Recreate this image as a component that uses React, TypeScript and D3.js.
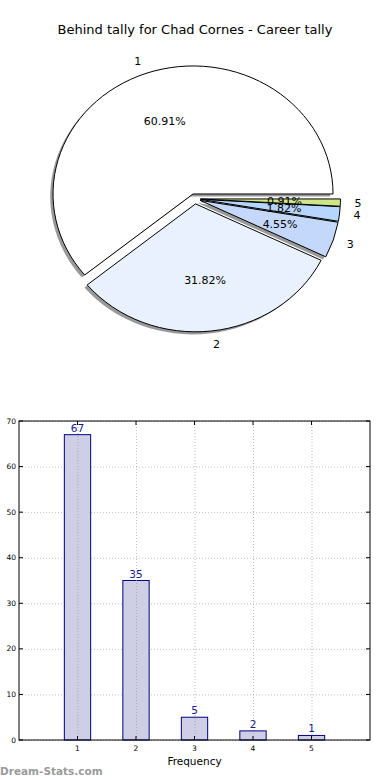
import { useEffect, useRef } from "react";
import * as d3 from "d3";

const categories = ["1", "2", "3", "4", "5"];
const counts = [67, 35, 5, 2, 1];
const sliceColors = ["#ffffff", "#eaf1fe", "#c4d8fc", "#b6d6ff", "#cde68a"];
const yTicks = [0, 10, 20, 30, 40, 50, 60, 70];

const W = 390;
const H = 780;

const App = () => {
  const ref = useRef<SVGSVGElement | null>(null);

  useEffect(() => {
    const svg = d3.select(ref.current);
    svg.selectAll("*").remove();
    const font = "DejaVu Sans, sans-serif";

    svg
      .append("text")
      .attr("x", 195)
      .attr("y", 34)
      .attr("text-anchor", "middle")
      .attr("font-family", font)
      .attr("font-size", 13)
      .text("Behind tally for Chad Cornes - Career tally");

    // ---- pie (elliptical, like matplotlib with non-equal aspect)
    const cx = 194.9;
    const cy = 198.8;
    const rx = 140;
    const ry = 128;
    const explode = 0.04;
    const total = d3.sum(counts);

    const pie = d3
      .pie<number>()
      .sort(null)
      .startAngle(Math.PI / 2)
      .endAngle(Math.PI / 2 - 2 * Math.PI);
    const arcs = pie(counts);
    const arc = d3.arc<d3.PieArcDatum<number>>().innerRadius(0).outerRadius(1);

    const pieG = svg.append("g");
    const wedge = (d: d3.PieArcDatum<number>) => {
      const m = (d.startAngle + d.endAngle) / 2;
      return { dx: Math.sin(m), dy: -Math.cos(m) };
    };

    // shadows
    pieG
      .selectAll("path.shadow")
      .data(arcs)
      .join("path")
      .attr("class", "shadow")
      .attr("transform", (d) => {
        const { dx, dy } = wedge(d);
        const ox = cx + dx * explode * rx - 0.02 * rx;
        const oy = cy + dy * explode * ry + 0.02 * ry;
        return `translate(${ox},${oy}) scale(${rx},${ry})`;
      })
      .attr("d", arc)
      .attr("fill", "#808080")
      .attr("fill-opacity", 0.8);

    pieG
      .selectAll("path.slice")
      .data(arcs)
      .join("path")
      .attr("class", "slice")
      .attr("transform", (d) => {
        const { dx, dy } = wedge(d);
        return `translate(${cx + dx * explode * rx},${cy + dy * explode * ry}) scale(${rx},${ry})`;
      })
      .attr("d", arc)
      .attr("fill", (_, i) => sliceColors[i])
      .attr("stroke", "#000")
      .attr("stroke-width", 1)
      .attr("vector-effect", "non-scaling-stroke");

    arcs.forEach((d, i) => {
      const { dx, dy } = wedge(d);
      const ox = cx + dx * explode * rx;
      const oy = cy + dy * explode * ry;
      pieG
        .append("text")
        .attr("x", ox + dx * 1.1 * rx)
        .attr("y", oy + dy * 1.1 * ry)
        .attr("dy", "0.35em")
        .attr("text-anchor", dx < 0 ? "end" : "start")
        .attr("font-family", font)
        .attr("font-size", 11)
        .text(categories[i]);
      pieG
        .append("text")
        .attr("x", ox + dx * 0.6 * rx)
        .attr("y", oy + dy * 0.6 * ry)
        .attr("dy", "0.35em")
        .attr("text-anchor", "middle")
        .attr("font-family", font)
        .attr("font-size", 11)
        .text(((counts[i] / total) * 100).toFixed(2) + "%");
    });

    // ---- bar chart
    const margin = { top: 421, right: 20, bottom: 40, left: 19 };
    const x = d3.scaleLinear().domain([0, 6]).range([margin.left, W - margin.right]);
    const y = d3.scaleLinear().domain([0, 70]).range([H - margin.bottom, margin.top]);
    const barW = x(0.45) - x(0);

    const grid = svg.append("g").attr("stroke", "#bdbdbd").attr("stroke-dasharray", "1,2");
    grid
      .selectAll("line.gy")
      .data(yTicks)
      .join("line")
      .attr("x1", x(0))
      .attr("x2", x(6))
      .attr("y1", (d) => y(d) + 0.5)
      .attr("y2", (d) => y(d) + 0.5);
    grid
      .selectAll("line.gx")
      .data(categories)
      .join("line")
      .attr("x1", (_, i) => x(i + 1) + 0.5)
      .attr("x2", (_, i) => x(i + 1) + 0.5)
      .attr("y1", y(0))
      .attr("y2", y(70));

    svg
      .append("g")
      .selectAll("rect")
      .data(counts)
      .join("rect")
      .attr("x", (_, i) => x(i + 1) - barW / 2)
      .attr("y", (d) => y(d))
      .attr("width", barW)
      .attr("height", (d) => y(0) - y(d))
      .attr("fill", "#cbcbe4")
      .attr("fill-opacity", 0.95)
      .attr("stroke", "#000080")
      .attr("stroke-width", 1);

    // grid shows through the bars in the original
    svg
      .append("g")
      .attr("stroke", "#a9a9bd")
      .attr("stroke-dasharray", "1,2")
      .selectAll("line")
      .data(categories)
      .join("line")
      .attr("x1", (_, i) => x(i + 1) + 0.5)
      .attr("x2", (_, i) => x(i + 1) + 0.5)
      .attr("y1", y(0))
      .attr("y2", (_, i) => y(counts[i]));

    svg
      .append("g")
      .selectAll("text")
      .data(counts)
      .join("text")
      .attr("x", (_, i) => x(i + 1))
      .attr("y", (d) => y(d) - 3)
      .attr("text-anchor", "middle")
      .attr("font-family", font)
      .attr("font-size", 10.5)
      .attr("fill", "#1a1a8c")
      .text((d) => d);

    svg
      .append("rect")
      .attr("x", x(0))
      .attr("y", y(70))
      .attr("width", x(6) - x(0))
      .attr("height", y(0) - y(70))
      .attr("fill", "none")
      .attr("stroke", "#000")
      .attr("stroke-width", 1);

    const axG = svg.append("g").attr("stroke", "#000");
    yTicks.forEach((t) => {
      axG.append("line").attr("x1", x(0)).attr("x2", x(0) + 4).attr("y1", y(t)).attr("y2", y(t));
      axG.append("line").attr("x1", x(6)).attr("x2", x(6) - 4).attr("y1", y(t)).attr("y2", y(t));
    });
    categories.forEach((_, i) => {
      axG.append("line").attr("x1", x(i + 1)).attr("x2", x(i + 1)).attr("y1", y(0)).attr("y2", y(0) - 4);
      axG.append("line").attr("x1", x(i + 1)).attr("x2", x(i + 1)).attr("y1", y(70)).attr("y2", y(70) + 4);
    });

    svg
      .append("g")
      .selectAll("text")
      .data(yTicks)
      .join("text")
      .attr("x", x(0) - 3)
      .attr("y", (d) => y(d))
      .attr("dy", "0.35em")
      .attr("text-anchor", "end")
      .attr("font-family", font)
      .attr("font-size", 7.5)
      .text((d) => d);

    svg
      .append("g")
      .selectAll("text")
      .data(categories)
      .join("text")
      .attr("x", (_, i) => x(i + 1))
      .attr("y", y(0) + 11)
      .attr("text-anchor", "middle")
      .attr("font-family", font)
      .attr("font-size", 7.5)
      .text((d) => d);

    svg
      .append("text")
      .attr("x", (x(0) + x(6)) / 2)
      .attr("y", 765)
      .attr("text-anchor", "middle")
      .attr("font-family", font)
      .attr("font-size", 10.5)
      .text("Frequency");

    svg
      .append("text")
      .attr("x", 0)
      .attr("y", 775)
      .attr("font-family", font)
      .attr("font-weight", "bold")
      .attr("font-size", 10.5)
      .attr("fill", "#9a9a9a")
      .text("Dream-Stats.com");
  }, []);

  return (
    <svg
      ref={ref}
      width={W}
      height={H}
      style={{ position: "absolute", left: 0, top: 0, display: "block", background: "#fff" }}
    />
  );
};

export default App;
